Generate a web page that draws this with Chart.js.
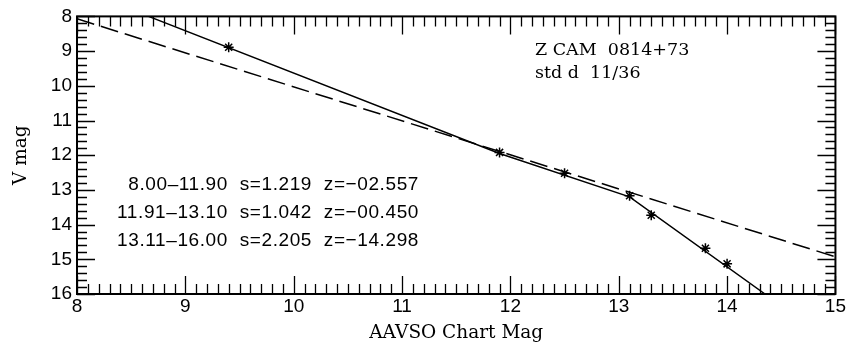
<!DOCTYPE html>
<html>
<head>
<meta charset="utf-8">
<script src="https://cdn.jsdelivr.net/npm/chart.js@4.4.1/dist/chart.umd.min.js"></script>
<style>
html,body{margin:0;padding:0;background:#fff;}
#wrap{width:847px;height:347px;}
</style>
</head>
<body>
<div id="wrap"><canvas id="c" width="847" height="347"></canvas></div>
<script>
// ---- data ----
const starX = [9.4, 11.9, 12.5, 13.1, 13.3, 13.8, 14.0];
const starY = [8.89, 11.92, 12.52, 13.17, 13.73, 14.68, 15.13];
const fitX = [8.66, 11.9, 13.1, 14.35];
const fitY = [8.0, 11.95, 13.2, 16.0];
const dashX = [8.0, 15.0];
const dashY = [8.07, 14.93];
const xTicks = [8, 9, 10, 11, 12, 13, 14, 15];
const yTicks = [8, 9, 10, 11, 12, 13, 14, 15, 16];
const titleLines = ["Z CAM  0814+73", "std d  11/36"];
const fitLines = [
  "8.00\u201311.90  s=1.219  z=\u221202.557",
  "11.91\u201313.10  s=1.042  z=\u221200.450",
  "13.11\u201316.00  s=2.205  z=\u221214.298"
];

const pts = (xs, ys) => xs.map((x, i) => ({x: x, y: ys[i]}));

const framePlugin = {
  id: 'frame',
  afterDatasetsDraw(chart) {
    const {ctx, chartArea: a, scales: {x, y}} = chart;
    ctx.save();
    ctx.strokeStyle = '#000';
    ctx.lineWidth = 1.3;
    ctx.beginPath();
    for (let i = 0; i <= 70; i++) {
      const v = 8 + i / 10;
      const px = Math.round(x.getPixelForValue(v)) + 0.5;
      const len = (i % 10 === 0) ? 18 : 10;
      ctx.moveTo(px, a.bottom); ctx.lineTo(px, a.bottom - len);
      ctx.moveTo(px, a.top); ctx.lineTo(px, a.top + len);
    }
    for (let i = 0; i <= 40; i++) {
      const v = 8 + i / 5;
      const py = Math.round(y.getPixelForValue(v)) + 0.5;
      const len = (i % 5 === 0) ? 18 : 10;
      ctx.moveTo(a.left, py); ctx.lineTo(a.left + len, py);
      ctx.moveTo(a.right, py); ctx.lineTo(a.right - len, py);
    }
    ctx.stroke();
    ctx.lineWidth = 2;
    ctx.strokeRect(a.left, a.top, a.right - a.left, a.bottom - a.top);

    ctx.fillStyle = '#000';
    ctx.textBaseline = 'middle';
    ctx.font = '17.5px "DejaVu Serif"';
    ctx.textAlign = 'left';
    ctx.fillText(titleLines[0], 535, 50);
    ctx.fillText(titleLines[1], 535, 73);

    ctx.font = '19px "Liberation Sans"';
    ctx.letterSpacing = '0.6px';
    ctx.textAlign = 'right';
    ctx.fillText(fitLines[0], 419, 185);
    ctx.fillText(fitLines[1], 419, 213);
    ctx.fillText(fitLines[2], 419, 241);
    ctx.restore();
  }
};

new Chart(document.getElementById('c'), {
  type: 'scatter',
  data: {
    datasets: [
      {
        data: pts(dashX, dashY), showLine: true, borderColor: '#000', borderWidth: 1.5,
        borderDash: [18, 7], pointRadius: 0, fill: false
      },
      {
        data: pts(fitX, fitY), showLine: true, borderColor: '#000', borderWidth: 1.5,
        pointRadius: 0, fill: false
      },
      {
        data: pts(starX, starY), showLine: false, pointStyle: 'star', pointRadius: 5,
        borderColor: '#000', backgroundColor: '#000', pointBorderWidth: 1.5
      }
    ]
  },
  options: {
    responsive: false,
    animation: false,
    devicePixelRatio: 1,
    layout: {padding: {top: 14, right: 10, left: 0, bottom: 0}},
    plugins: {legend: {display: false}, tooltip: {enabled: false}},
    scales: {
      x: {
        type: 'linear', min: 8, max: 15,
        afterBuildTicks: s => { s.ticks = xTicks.map(v => ({value: v})); },
        afterFit: s => { s.height = 53; },
        grid: {display: false, drawTicks: false},
        border: {display: false},
        ticks: {color: '#000', font: {family: 'Liberation Sans', size: 19}, padding: 1, maxRotation: 0, autoSkip: false},
        title: {display: true, text: 'AAVSO Chart Mag', color: '#000',
                font: {family: 'DejaVu Serif', size: 18.5}, padding: {top: 0, bottom: 3}}
      },
      y: {
        type: 'linear', min: 8, max: 16, reverse: true,
        afterBuildTicks: s => { s.ticks = yTicks.map(v => ({value: v})); },
        afterFit: s => { s.width = 77; },
        grid: {display: false, drawTicks: false},
        border: {display: false},
        ticks: {color: '#000', font: {family: 'Liberation Sans', size: 19}, padding: 5, autoSkip: false},
        title: {display: true, text: 'V mag', color: '#000',
                font: {family: 'DejaVu Serif', size: 18.5}, padding: {top: 10, bottom: 0}}
      }
    }
  },
  plugins: [framePlugin]
});
</script>
</body>
</html>
